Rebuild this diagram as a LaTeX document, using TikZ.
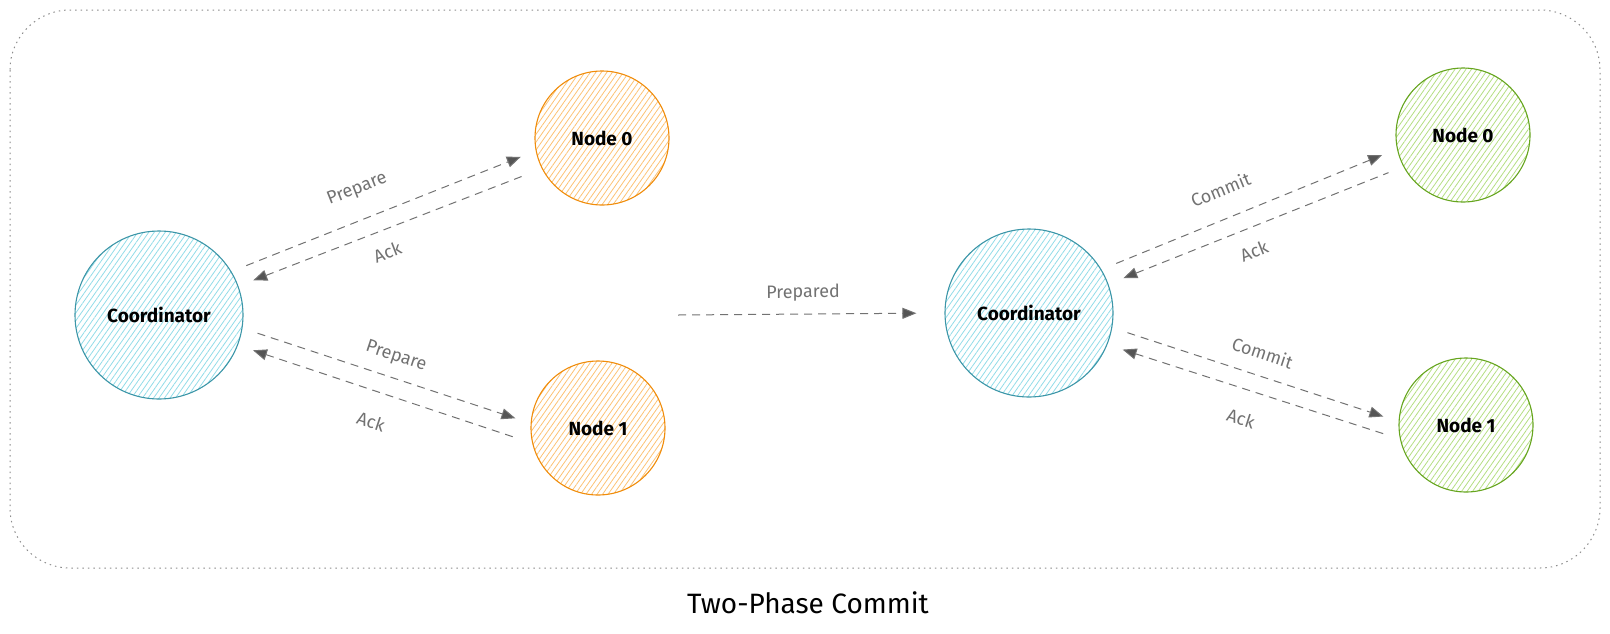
\documentclass[tikz,border=0pt]{standalone}
\usepackage{fontspec}
\setmainfont{Fira Sans}
\usetikzlibrary{arrows.meta,patterns.meta}
\definecolor{coordline}{HTML}{3C96A8}
\definecolor{coordfill}{HTML}{92DCE8}
\definecolor{prepline}{HTML}{F08C0A}
\definecolor{prepfill}{HTML}{FCC274}
\definecolor{commitline}{HTML}{66A51E}
\definecolor{commitfill}{HTML}{B4DE82}
\definecolor{msggray}{HTML}{727272}
\definecolor{tipgray}{HTML}{555555}
\definecolor{framegray}{HTML}{8C8C8C}
\tikzset{
  peer/.style={circle, draw, line width=1.1pt, inner sep=0pt, minimum size=134pt,
    font=\fontsize{19}{22}\selectfont\bfseries},
  coord/.style={peer, minimum size=168pt, draw=coordline,
    pattern={Lines[angle=55,distance=4.5pt,line width=.8pt]}, pattern color=coordfill},
  prepnode/.style={peer, draw=prepline,
    pattern={Lines[angle=55,distance=4.5pt,line width=.8pt]}, pattern color=prepfill},
  commitnode/.style={peer, draw=commitline,
    pattern={Lines[angle=55,distance=4.5pt,line width=.8pt]}, pattern color=commitfill},
  msg/.style={msggray, line width=1pt, dash pattern=on 8pt off 6pt,
    shorten <=16pt, shorten >=16pt},
  msglabel/.style={sloped, text=msggray, inner sep=0pt, font=\fontsize{18}{21}\selectfont},
  >={Triangle[length=14pt,width=11pt,fill=tipgray]}
}
\begin{document}
\begin{tikzpicture}[x=1pt,y=-1pt]
    \useasboundingbox (0,0) rectangle (1610,633);
    % outline
    \draw[framegray, line width=1pt, dash pattern=on 1.5pt off 4pt, rounded corners=60pt]
        (10,10) rectangle (1600,568);
    \node[font=\fontsize{28}{32}\selectfont] (title) at (808,603) {Two-Phase Commit};

    % prepare phase
    \node[coord] (coL) at (159,315) {Coordinator};
    \node[prepnode] (n0L) at (602,138) {Node 0};
    \node[prepnode] (n1L) at (598,428) {Node 1};
    \draw[msg,->] (coL.31) -- node[msglabel, pos=.45, yshift=30pt] {Prepare} (n0L.191);
    \draw[msg,<-] (coL.20) -- node[msglabel, pos=.465, yshift=-22pt] {Ack} (n0L.207);
    \draw[msg,->] (coL.-9) -- node[msglabel, pos=.51, yshift=21pt] {Prepare} (n1L.176);
    \draw[msg,<-] (coL.-21) -- node[msglabel, pos=.485, yshift=-30pt] {Ack} (n1L.193);

    % between the phases
    \node[coord] (coR) at (1029,313) {Coordinator};
    \coordinate (prepStart) at (678,315);
    \draw[msg,->,shorten <=0pt,shorten >=28pt] (prepStart) -- node[msglabel, pos=.47, yshift=21pt] {Prepared} (coR.west);

    % commit phase
    \node[commitnode] (n0R) at (1463,135) {Node 0};
    \node[commitnode] (n1R) at (1466,425) {Node 1};
    \draw[msg,->] (coR.31) -- node[msglabel, pos=.44, yshift=29pt] {Commit} (n0R.192);
    \draw[msg,<-] (coR.20) -- node[msglabel, pos=.465, yshift=-23pt] {Ack} (n0R.208);
    \draw[msg,->] (coR.-10) -- node[msglabel, pos=.5, yshift=23pt] {Commit} (n1R.177);
    \draw[msg,<-] (coR.-22) -- node[msglabel, pos=.487, yshift=-29pt] {Ack} (n1R.192);
\end{tikzpicture}
\end{document}
